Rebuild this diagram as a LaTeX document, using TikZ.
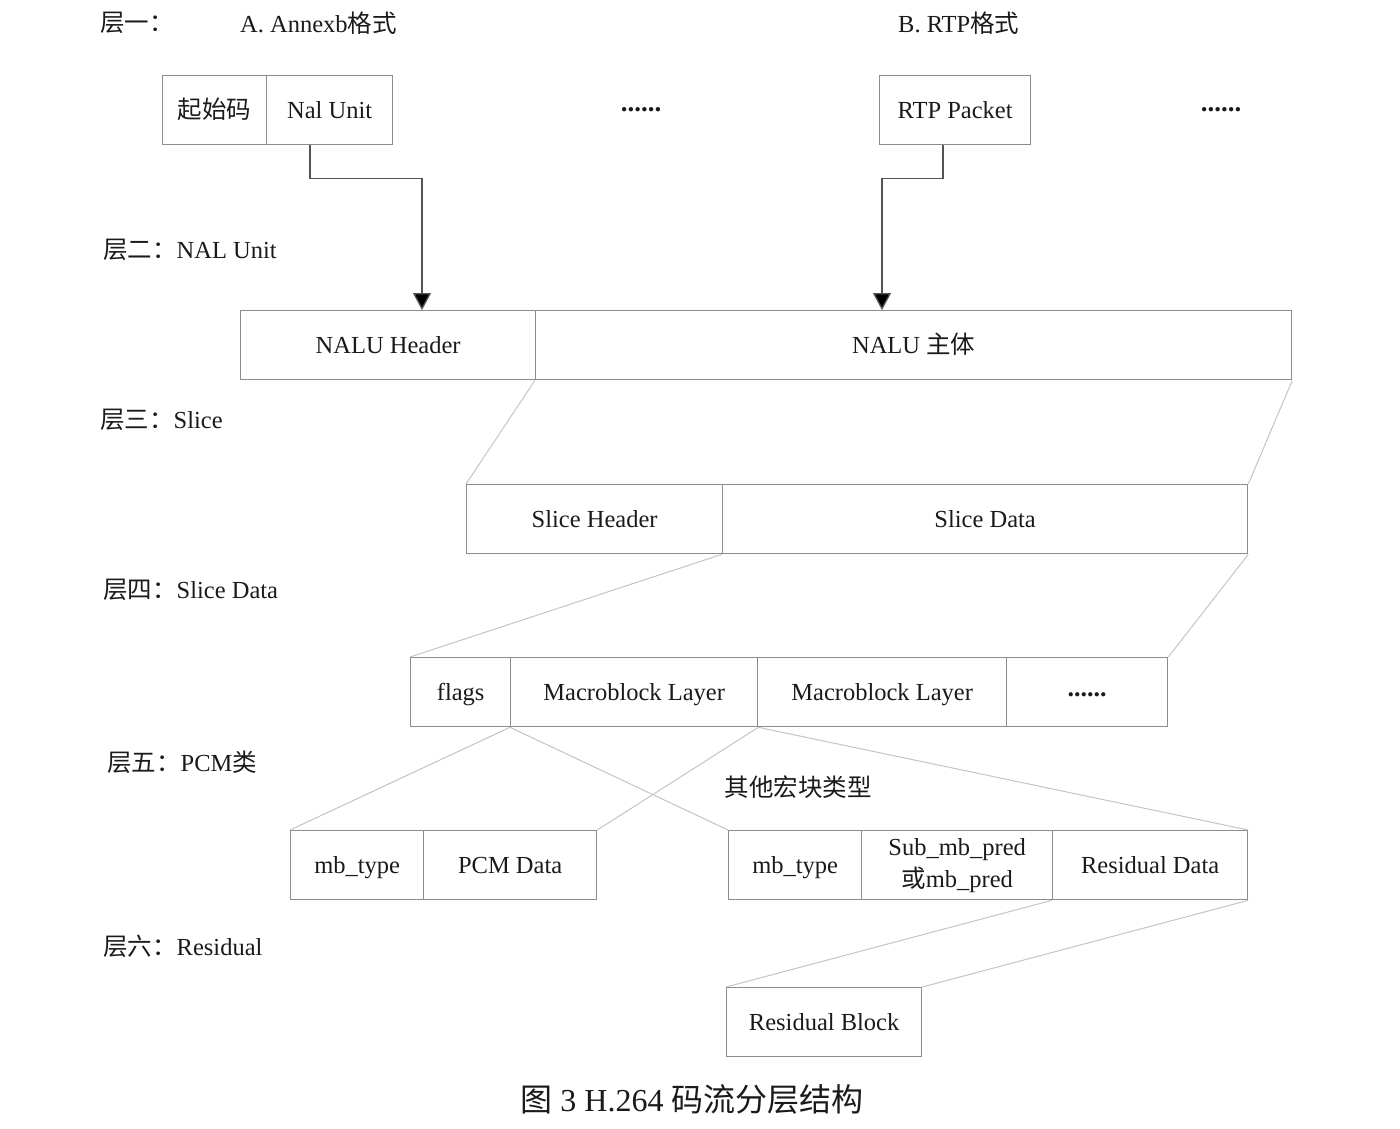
\documentclass[tikz,border=0pt]{standalone}
\usepackage{fontspec}
\setmainfont{Liberation Serif}
\newfontfamily\cjk{Noto Sans CJK SC}
\usetikzlibrary{arrows.meta}
\definecolor{boxgray}{HTML}{8C8C8C}
\definecolor{linkgray}{HTML}{C4C4C4}
\definecolor{ink}{HTML}{1A1A1A}
\begin{document}
\begin{tikzpicture}[x=1pt,y=-1pt,
  cell/.style={draw=boxgray, line width=1.3pt, anchor=north west,
    minimum height=69pt, inner sep=0pt, text=ink,
    text height=16pt, text depth=0pt,
    font=\fontsize{24.5}{32}\selectfont, align=center},
  layer/.style={anchor=west, inner sep=0pt, text=ink,
    font=\fontsize{24.5}{28}\selectfont},
  dots/.style={inner sep=0pt, text=ink, font=\fontsize{27}{27}\selectfont\bfseries},
  link/.style={draw=linkgray, line width=1pt},
  feed/.style={draw=boxgray!60!black, line width=1.3pt,
    -{Triangle[length=17pt,width=18pt,fill=black]}}]
\useasboundingbox (0,0) rectangle (1400,1128);

% layer captions
\node[layer] (l1) at (100,23) {{\cjk 层一：}};
\node[layer] (fmtA) at (240,23) {A. Annexb{\cjk 格式}};
\node[layer] (fmtB) at (898,23) {B. RTP{\cjk 格式}};
\node[layer] (l2) at (103,250) {{\cjk 层二：}NAL Unit};
\node[layer] (l3) at (100,420) {{\cjk 层三：}Slice};
\node[layer] (l4) at (103,590) {{\cjk 层四：}Slice Data};
\node[layer] (l5) at (107,762) {{\cjk 层五：}PCM{\cjk 类}};
\node[layer] (l6) at (103,946) {{\cjk 层六：}Residual};

% layer one: byte stream and RTP packets
\node[cell, minimum width=104pt] (start) at (162,75) {\cjk 起始码};
\node[cell, minimum width=126pt] (nal) at (266,75) {Nal Unit};
\node[dots] (dotsA) at (641,110) {......};
\node[cell, minimum width=151pt] (rtp) at (879,75) {RTP Packet};
\node[dots] (dotsB) at (1221,110) {......};

% layer two: NAL unit
\node[cell, minimum width=295pt] (hdr) at (240,310) {NALU Header};
\node[cell, minimum width=756pt] (body) at (535,310) {NALU {\cjk 主体}};

\draw[feed] ([xshift=44pt]nal.south west) -- ++(0,33) -| ([xshift=182pt]hdr.north west);
\draw[feed] ([xshift=64pt]rtp.south west) -- ++(0,33) -| ([xshift=347pt]body.north west);

% layer three: slice
\node[cell, minimum width=256pt] (shdr) at (466,484) {Slice Header};
\node[cell, minimum width=525pt] (sdata) at (722,484) {Slice Data};
\draw[link] (body.south west) -- (shdr.north west);
\draw[link] (body.south east) -- (sdata.north east);

% layer four: slice data
\node[cell, minimum width=100pt] (flags) at (410,657) {flags};
\node[cell, minimum width=247pt] (mb1) at (510,657) {Macroblock Layer};
\node[cell, minimum width=249pt] (mb2) at (757,657) {Macroblock Layer};
\node[cell, minimum width=161pt, text height=8pt, font=\fontsize{26}{30}\selectfont\bfseries] (more) at (1006,657) {......};
\draw[link] (sdata.south west) -- (flags.north west);
\draw[link] (sdata.south east) -- (more.north east);

% layer five: macroblock contents
\node[cell, minimum width=133pt] (pcmtype) at (290,830) {mb\_type};
\node[cell, minimum width=173pt] (pcmdata) at (423,830) {PCM Data};
\node[cell, minimum width=133pt] (mbtype) at (728,830) {mb\_type};
\node[cell, minimum width=191pt, text height=, text depth=] (pred) at (861,830) {Sub\_mb\_pred\\{\cjk 或}mb\_pred};
\node[cell, minimum width=195pt] (resid) at (1052,830) {Residual Data};
\node[layer, anchor=center] (other) at (798,787) {\cjk 其他宏块类型};
\draw[link] (mb1.south west) -- (pcmtype.north west);
\draw[link] (mb1.south east) -- (pcmdata.north east);
\draw[link] (mb1.south west) -- (mbtype.north west);
\draw[link] (mb1.south east) -- (resid.north east);

% layer six: residual
\node[cell, minimum width=195pt] (rblock) at (726,987) {Residual Block};
\draw[link] (resid.south west) -- (rblock.north west);
\draw[link] (resid.south east) -- (rblock.north east);

% figure caption
\node[inner sep=0pt, text=ink, font=\fontsize{32}{36}\selectfont] (cap) at (692,1099)
  {{\cjk 图} 3 H.264 {\cjk 码流分层结构}};
\end{tikzpicture}
\end{document}
